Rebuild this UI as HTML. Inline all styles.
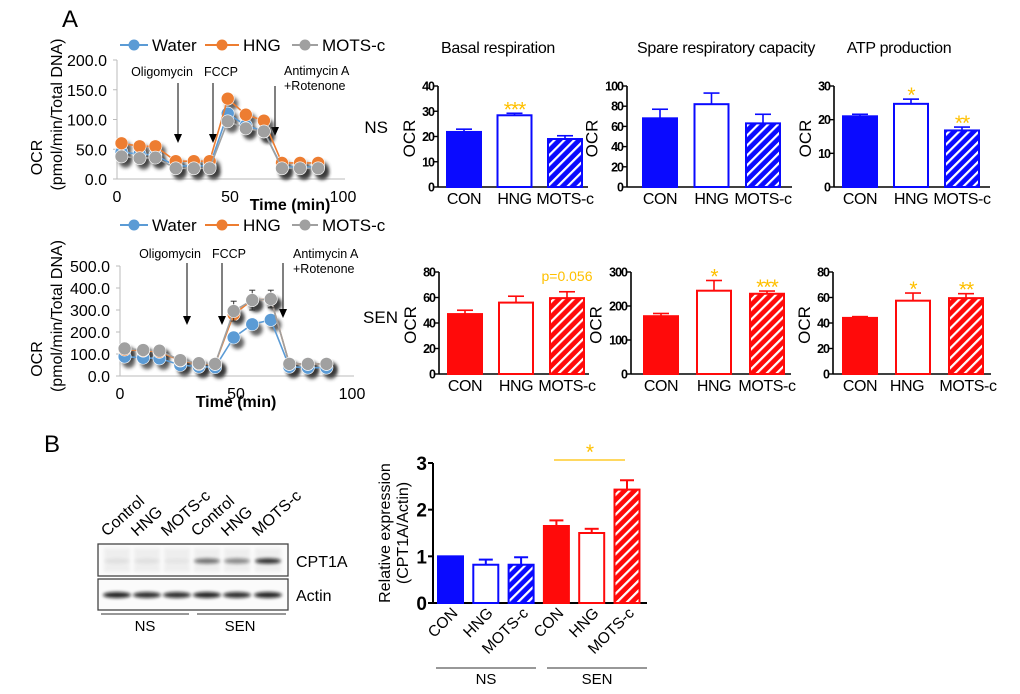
<!DOCTYPE html>
<html><head><meta charset="utf-8"><style>
html,body{margin:0;padding:0;background:#fff;}
svg{display:block;font-family:"Liberation Sans",Arial,sans-serif;}
</style></head><body>
<svg id="fig" width="1020" height="694" viewBox="0 0 1020 694" xmlns="http://www.w3.org/2000/svg">
<defs>
<filter id="blur" x="-50%" y="-50%" width="200%" height="200%"><feGaussianBlur stdDeviation="1.8"/></filter>
<filter id="bblur" x="-20%" y="-100%" width="140%" height="300%"><feGaussianBlur stdDeviation="1.5"/></filter>
<pattern id="hatchBlue" patternUnits="userSpaceOnUse" width="7" height="7" patternTransform="rotate(45)"><rect width="7" height="7" fill="#0a0aff"/><rect x="0" y="0" width="2.2" height="7" fill="#fff"/></pattern>
<pattern id="hatchRed" patternUnits="userSpaceOnUse" width="7" height="7" patternTransform="rotate(45)"><rect width="7" height="7" fill="#ff0a0a"/><rect x="0" y="0" width="2.2" height="7" fill="#fff"/></pattern>
</defs>
<text x="62" y="27" font-size="24">A</text>
<text x="44" y="452" font-size="24">B</text>
<g id="lines"></g>
<g id="bars"></g>
<g id="blot"></g>
<g id="expr"></g>
</svg>
<script>
// ---------- data ----------
const times = [2, 10, 17, 26, 34, 41, 49, 57, 65, 73, 81, 89];
const nsWater = [45, 42, 40, 22, 22, 22, 110, 90, 80, 20, 20, 20];
const nsHNG = [60, 55, 55, 30, 30, 30, 135, 108, 98, 27, 27, 27];
const nsMOTS = [38, 35, 36, 18, 18, 18, 97, 85, 80, 18, 18, 18];
const senWater = [88, 83, 80, 50, 42, 40, 175, 235, 255, 42, 38, 38];
const senHNG = [120, 115, 110, 70, 55, 55, 280, 345, 350, 55, 55, 55];
const senMOTS = [125, 118, 115, 72, 58, 55, 295, 345, 350, 55, 55, 55];
const senMOTSErr = [0, 0, 0, 0, 0, 0, 45, 45, 40, 0, 0, 0];
const nsTicks = [0, 50, 100, 150, 200];
const senTicks = [0, 100, 200, 300, 400, 500];
const timeTicks = [0, 50, 100];
const barCats = ["CON", "HNG", "MOTS-c"];
const basalNS = [21.8, 28.4, 19.0]; const basalNSErr = [1.1, 0.8, 1.3];
const spareNS = [68, 82, 63]; const spareNSErr = [9, 11, 9];
const atpNS = [21.0, 24.7, 16.8]; const atpNSErr = [0.6, 1.4, 1.0];
const basalSEN = [47, 56, 59.5]; const basalSENErr = [3, 5, 5];
const spareSEN = [170, 245, 236]; const spareSENErr = [8, 30, 8];
const atpSEN = [44, 57.5, 59.5]; const atpSENErr = [1, 6, 3.5];
const exprCats = ["CON", "HNG", "MOTS-c", "CON", "HNG", "MOTS-c"];
const exprVals = [1.0, 0.82, 0.82, 1.65, 1.5, 2.43];
const exprErr = [0, 0.11, 0.16, 0.12, 0.09, 0.2];
const exprTicks = [0, 1, 2, 3];
const lanes = ["Control", "HNG", "MOTS-c", "Control", "HNG", "MOTS-c"];
const cptBand = [0.06, 0.06, 0.04, 0.55, 0.45, 0.85];
const actinBand = [0.9, 0.85, 0.85, 0.9, 0.85, 0.9];

const NS = "http://www.w3.org/2000/svg";
function mk(tag, attrs, parent, txt) {
  const e = document.createElementNS(NS, tag);
  for (const k in attrs) e.setAttribute(k, attrs[k]);
  if (txt !== undefined) e.textContent = txt;
  parent.appendChild(e); return e;
}
const COL = {water: "#5b9bd5", hng: "#ed7d31", mots: "#a0a0a0"};

// ---------- line charts ----------
function lineChart(g, c) {
  const sx = t => c.x0 + (t / 100) * (c.x1 - c.x0);
  const sy = v => c.y0 - (v / c.max) * (c.y0 - c.y1);
  let e;
  e = mk("line", {x1: c.x0, y1: c.y1, x2: c.x0, y2: c.y0, stroke: "#bbb"}, g);
   
  e = mk("line", {x1: c.x0, y1: c.y0, x2: c.x1 + 2, y2: c.y0, stroke: "#bbb"}, g);
   
  c.ticks.forEach(t => {
    mk("line", {x1: c.x0 - 4, y1: sy(t), x2: c.x0, y2: sy(t), stroke: "#bbb"}, g);
    e = mk("text", {x: c.x0 - 10, y: sy(t) + 6, "font-size": 16, "text-anchor": "end"}, g, t.toFixed(1));
     
  });
  timeTicks.forEach(t => {
    e = mk("text", {x: sx(t), y: c.y0 + 23, "font-size": 16, "text-anchor": "middle"}, g, t);
     
  });
  e = mk("text", {x: c.tx, y: c.y0 + 31, "font-size": 16, "font-weight": "bold", "text-anchor": "middle"}, g, "Time (min)");
   
  e = mk("text", {transform: `translate(42,${(c.y0 + c.y1) / 2 + 38}) rotate(-90)`, "font-size": 16, "text-anchor": "middle"}, g, "OCR");
   
  e = mk("text", {transform: `translate(62,${(c.y0 + c.y1) / 2 - 5}) rotate(-90)`, "font-size": 16, "text-anchor": "middle"}, g, "(pmol/min/Total DNA)");
   
  [["Water", COL.water, 120, 152], ["HNG", COL.hng, 205, 243], ["MOTS-c", COL.mots, 292, 322]].forEach(L => {
    const lg = mk("g", {}, g);
     
    mk("line", {x1: L[2], y1: c.ly, x2: L[3] - 4, y2: c.ly, stroke: L[1], "stroke-width": 2}, lg);
    mk("circle", {cx: (L[2] + L[3] - 4) / 2, cy: c.ly, r: 5.5, fill: L[1]}, lg);
    mk("text", {x: L[3], y: c.ly + 6, "font-size": 17}, lg, L[0]);
  });
  c.ann.forEach(a => {
    const ag = mk("g", {}, g);
     
    mk("line", {x1: a.x, y1: a.y1, x2: a.x, y2: a.y2 - 7, stroke: "#000", "stroke-width": 1}, ag);
    mk("polygon", {points: `${a.x - 4},${a.y2 - 9} ${a.x + 4},${a.y2 - 9} ${a.x},${a.y2}`, fill: "#000"}, ag);
  });
  c.labels.forEach(l => {
    e = mk("text", {x: l[0], y: l[1], "font-size": 12.5, "text-anchor": l[3]}, g, l[2]);
     
  });
  const series = [[c.water, COL.water, "water"], [c.hng, COL.hng, "hng"], [c.mots, COL.mots, "mots-c"]];
  series.forEach(s => {
    const sg = mk("g", {}, g);
     
    s[0].forEach((v, i) => mk("circle", {cx: sx(times[i]) + 4, cy: sy(v) + 5, r: 6.5, fill: "#333", opacity: 0.75, filter: "url(#blur)"}, sg));
  });
  series.forEach(s => {
    const sg = mk("g", {}, g);
     
    mk("polyline", {points: s[0].map((v, i) => sx(times[i]) + "," + sy(v)).join(" "), fill: "none", stroke: s[1], "stroke-width": 1.6}, sg);
    if (s[2] === "mots-c" && c.err) c.err.forEach((er, i) => {
      if (!er) return; const x = sx(times[i]), v = s[0][i];
      mk("line", {x1: x, y1: sy(v - er), x2: x, y2: sy(v + er), stroke: "#333"}, sg);
      mk("line", {x1: x - 3, y1: sy(v + er), x2: x + 3, y2: sy(v + er), stroke: "#333"}, sg);
      mk("line", {x1: x - 3, y1: sy(v - er), x2: x + 3, y2: sy(v - er), stroke: "#333"}, sg);
    });
    s[0].forEach((v, i) => {
      const p = mk("circle", {cx: sx(times[i]), cy: sy(v), r: 6.5, fill: s[1], stroke: "#fff", "stroke-width": 0.6}, sg);
       
    });
  });
}
const LG = document.getElementById("lines");
const g1 = mk("g", {}, LG);  
lineChart(g1, {x0: 117, x1: 343, y0: 179, y1: 60, max: 200, ticks: nsTicks, tx: 290, ly: 45,
  water: nsWater, hng: nsHNG, mots: nsMOTS,
  ann: [{x: 178, y1: 83, y2: 143}, {x: 213, y1: 83, y2: 143}, {x: 275, y1: 86, y2: 136}],
  labels: [[162, 76, "Oligomycin", "middle"], [221, 76, "FCCP", "middle"], [284, 75, "Antimycin A", "start"], [284, 90, "+Rotenone", "start"]]});
const g2 = mk("g", {}, LG);  
lineChart(g2, {x0: 120, x1: 352, y0: 376, y1: 266, max: 500, ticks: senTicks, tx: 236, ly: 225,
  water: senWater, hng: senHNG, mots: senMOTS, err: senMOTSErr,
  ann: [{x: 187, y1: 263, y2: 325}, {x: 222, y1: 263, y2: 325}, {x: 283, y1: 263, y2: 318}],
  labels: [[170, 258, "Oligomycin", "middle"], [229, 258, "FCCP", "middle"], [293, 258, "Antimycin A", "start"], [293, 273, "+Rotenone", "start"]]});

// ---------- bar panels ----------
const BG = document.getElementById("bars");
function barPanel(name, c) {
  const g = mk("g", {}, BG);
   
  const sy = v => c.y0 - (v / c.max) * (c.y0 - c.y1);
  const col = c.red ? "#ff0a0a" : "#0a0aff";
  let e;
  mk("line", {x1: c.ax, y1: c.y1, x2: c.ax, y2: c.y0, stroke: "#000", "stroke-width": 1.6}, g);
  mk("line", {x1: c.ax, y1: c.y0, x2: c.ax + c.w, y2: c.y0, stroke: "#000", "stroke-width": 1.6}, g);
  c.ticks.forEach(t => {
    mk("line", {x1: c.ax - 4, y1: sy(t), x2: c.ax, y2: sy(t), stroke: "#000", "stroke-width": 1.4}, g);
    e = mk("text", {x: c.ax - 4, y: sy(t) + 4.5, "font-size": 12.5, "font-weight": "bold", "text-anchor": "end", "letter-spacing": "-1"}, g, t);
     
  });
  const tw = String(c.ticks[c.ticks.length - 1]).length * 6.5;
  e = mk("text", {transform: `translate(${c.ax - 10 - tw},${(c.y0 + c.y1) / 2 + 2}) rotate(-90)`, "font-size": 17, "text-anchor": "middle"}, g, "OCR");
   
  c.vals.forEach((v, i) => {
    const x = c.ax + c.off + i * c.step, bw = 34;
    const fill = i === 0 ? col : i === 1 ? "#fff" : (c.red ? "url(#hatchRed)" : "url(#hatchBlue)");
    const er = c.err[i], top = sy(v + er), cx = x + bw / 2;
    mk("line", {x1: cx, y1: sy(v), x2: cx, y2: top, stroke: col, "stroke-width": 1.6}, g);
    mk("line", {x1: cx - 8, y1: top, x2: cx + 8, y2: top, stroke: col, "stroke-width": 1.6}, g);
    e = mk("rect", {x: x, y: sy(v), width: bw, height: c.y0 - sy(v), fill: fill, stroke: col, "stroke-width": 2}, g);
     
    e = mk("text", {x: cx + (c.lx ? c.lx[i] : 0), y: c.y0 + 17, "font-size": 16, "text-anchor": "middle", "letter-spacing": "-0.4"}, g, barCats[i]);
     
    if (c.stars && c.stars[i]) {
      const isP = c.stars[i][0] === "p";
      e = mk("text", {x: cx, y: isP ? top - 11 : top + 3, "font-size": isP ? 14 : 21, fill: "#ffc000", "text-anchor": "middle", "letter-spacing": isP ? "0" : "-1"}, g, c.stars[i]);
       
    }
  });
}
barPanel("basal-ns", {ax: 438, y0: 187, y1: 86, max: 40, ticks: [0, 10, 20, 30, 40], w: 150, off: 9, step: 50.5, vals: basalNS, err: basalNSErr, stars: ["", "***", ""]});
barPanel("spare-ns", {ax: 627, y0: 187, y1: 86, max: 100, ticks: [0, 20, 40, 60, 80, 100], w: 165, off: 16, step: 51.5, vals: spareNS, err: spareNSErr});
barPanel("atp-ns", {ax: 834, y0: 187, y1: 86, max: 30, ticks: [0, 10, 20, 30], w: 156, off: 9, step: 51, vals: atpNS, err: atpNSErr, stars: ["", "*", "**"]});
barPanel("basal-sen", {ax: 439, y0: 374, y1: 272, max: 80, ticks: [0, 20, 40, 60, 80], w: 150, off: 9, step: 51, vals: basalSEN, err: basalSENErr, stars: ["", "", "p=0.056"], red: true});
barPanel("spare-sen", {ax: 631, y0: 374, y1: 272, max: 300, ticks: [0, 100, 200, 300], w: 160, off: 13, step: 53, vals: spareSEN, err: spareSENErr, stars: ["", "*", "***"], red: true});
barPanel("atp-sen", {ax: 833, y0: 374, y1: 272, max: 80, ticks: [0, 20, 40, 60, 80], w: 158, off: 10, step: 53, vals: atpSEN, err: atpSENErr, stars: ["", "*", "**"], lx: [0, -6, 2], red: true});
[["Basal respiration", 498], ["Spare respiratory capacity", 726], ["ATP production", 899]].forEach(t => {
  const e = mk("text", {x: t[1], y: 53, "font-size": 16, "text-anchor": "middle", "letter-spacing": "-0.3"}, BG, t[0]);
   
});
let rl = mk("text", {x: 388, y: 133, "font-size": 17, "text-anchor": "end"}, BG, "NS");
 
rl = mk("text", {x: 398, y: 323, "font-size": 17, "text-anchor": "end"}, BG, "SEN");
 

// ---------- western blot ----------
const WB = document.getElementById("blot");
const laneX = [117, 147, 177, 207, 237, 268];
let e;
e = mk("rect", {x: 98, y: 544, width: 190, height: 32, fill: "#fbfbfb", stroke: "#444", "stroke-width": 1.3}, WB);
 
e = mk("rect", {x: 98, y: 579, width: 190, height: 31, fill: "#fbfbfb", stroke: "#444", "stroke-width": 1.3}, WB);
 
lanes.forEach((l, i) => {
  mk("rect", {x: laneX[i] - 13, y: 548, width: 26, height: 24, fill: "#e6e6e6", opacity: 0.6, filter: "url(#bblur)"}, WB);
  let b = mk("ellipse", {cx: laneX[i], cy: 561, rx: 13, ry: 2.6, fill: "#111", opacity: cptBand[i], filter: "url(#bblur)"}, WB);
   
  b = mk("ellipse", {cx: laneX[i], cy: 595, rx: 14, ry: 3, fill: "#111", opacity: actinBand[i], filter: "url(#bblur)"}, WB);
   
  const t = mk("text", {transform: `translate(${laneX[i] - 10},537) rotate(-42)`, "font-size": 16}, WB, l);
   
});
[["CPT1A", 567], ["Actin", 601]].forEach(t => {
  const x = mk("text", {x: 296, y: t[1], "font-size": 16}, WB, t[0]);
   
});
mk("line", {x1: 101, y1: 614, x2: 189, y2: 614, stroke: "#777", "stroke-width": 1.5}, WB);
mk("line", {x1: 197, y1: 614, x2: 286, y2: 614, stroke: "#777", "stroke-width": 1.5}, WB);
e = mk("text", {x: 145, y: 631, "font-size": 15, "text-anchor": "middle"}, WB, "NS");  
e = mk("text", {x: 240, y: 631, "font-size": 15, "text-anchor": "middle"}, WB, "SEN");  

// ---------- relative expression chart ----------
const EX = document.getElementById("expr");
(function () {
  const ax = 433, y0 = 603, y1 = 463, max = 3, x0 = 438, step = 35.3, bw = 25;
  const sy = v => y0 - (v / max) * (y0 - y1);
  mk("line", {x1: ax, y1: y1, x2: ax, y2: y0, stroke: "#000", "stroke-width": 2}, EX);
  mk("line", {x1: ax, y1: y0, x2: 647, y2: y0, stroke: "#000", "stroke-width": 2}, EX);
  exprTicks.forEach(t => {
    mk("line", {x1: ax - 5, y1: sy(t), x2: ax, y2: sy(t), stroke: "#000", "stroke-width": 2}, EX);
    const e = mk("text", {x: ax - 6, y: sy(t) + 7, "font-size": 19, "font-weight": "bold", "text-anchor": "end"}, EX, t);
     
  });
  let e = mk("text", {transform: "translate(390,533) rotate(-90)", "font-size": 16, "text-anchor": "middle"}, EX, "Relative expression");
   
  e = mk("text", {transform: "translate(408,533) rotate(-90)", "font-size": 16, "text-anchor": "middle"}, EX, "(CPT1A/Actin)");
   
  exprVals.forEach((v, i) => {
    const red = i >= 3, col = red ? "#ff0a0a" : "#0a0aff", k = i % 3;
    const x = x0 + i * step, cx = x + bw / 2, er = exprErr[i];
    const fill = k === 0 ? col : k === 1 ? "#fff" : (red ? "url(#hatchRed)" : "url(#hatchBlue)");
    if (er) {
      mk("line", {x1: cx, y1: sy(v), x2: cx, y2: sy(v + er), stroke: col, "stroke-width": 2}, EX);
      mk("line", {x1: cx - 7, y1: sy(v + er), x2: cx + 7, y2: sy(v + er), stroke: col, "stroke-width": 2}, EX);
    }
    const r = mk("rect", {x: x, y: sy(v), width: bw, height: y0 - sy(v), fill: fill, stroke: col, "stroke-width": 2}, EX);
     
    const t = mk("text", {transform: `translate(${cx + 8},614) rotate(-45)`, "font-size": 15.5, "text-anchor": "end"}, EX, exprCats[i]);
     
  });
  mk("line", {x1: 554, y1: 460, x2: 625, y2: 460, stroke: "#ffc000", "stroke-width": 1.3}, EX);
  e = mk("text", {x: 590, y: 459, "font-size": 21, fill: "#ffc000", "text-anchor": "middle"}, EX, "*");
   
  mk("line", {x1: 436, y1: 668, x2: 536, y2: 668, stroke: "#777", "stroke-width": 1.5}, EX);
  mk("line", {x1: 547, y1: 668, x2: 647, y2: 668, stroke: "#777", "stroke-width": 1.5}, EX);
  e = mk("text", {x: 486, y: 684, "font-size": 15, "text-anchor": "middle"}, EX, "NS");  
  e = mk("text", {x: 597, y: 684, "font-size": 15, "text-anchor": "middle"}, EX, "SEN");  
})();
</script>
</body></html>
